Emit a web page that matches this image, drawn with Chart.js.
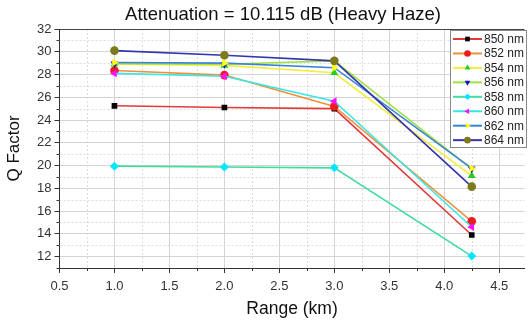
<!DOCTYPE html>
<html><head><meta charset="utf-8">
<script src="https://cdn.jsdelivr.net/npm/chart.js@4.4.1/dist/chart.umd.min.js"></script>
<style>html,body{margin:0;padding:0;background:#fff}#wrap{width:529px;height:324px;position:relative}</style>
</head><body><div id="wrap"><canvas id="c" width="529" height="324"></canvas></div>
<script>
const chartTitle = 'Attenuation = 10.115 dB (Heavy Haze)';
const xTitle = 'Range (km)';
const yTitle = 'Q Factor';
const ranges = [1.0, 2.0, 3.0, 4.25];
const seriesNames = ['850 nm','852 nm','854 nm','856 nm','858 nm','860 nm','862 nm','864 nm'];
const q850 = [25.25, 25.1, 25.0, 13.9];
const q852 = [28.35, 27.95, 25.2, 15.1];
const q854 = [28.9, 28.8, 28.15, 19.1];
const q856 = [28.95, 28.9, 29.2, 19.72];
const q858 = [19.95, 19.88, 19.8, 12.05];
const q860 = [28.1, 27.85, 25.65, 14.6];
const q862 = [29.05, 29.0, 28.6, 19.75];
const q864 = [30.1, 29.7, 29.2, 18.15];
const xTicks = [0.5, 1.0, 1.5, 2.0, 2.5, 3.0, 3.5, 4.0, 4.5];
const yTicks = [12, 14, 16, 18, 20, 22, 24, 26, 28, 30, 32];

const seriesValues = [q850,q852,q854,q856,q858,q860,q862,q864];
const lineColors = ['#e23a3a','#f0903c','#f2ee3c','#a2e046','#40dca0','#3ae6e6','#3a84d8','#3434b0'];
const markColors = ['#000000','#ee1c1c','#22cc22','#1414cc','#00e8ff','#ff10ff','#ffff10','#7c7a1c'];
const markStyles = ['rect','circle','triangle','triangle','rectRot','triangle','triangle','circle'];
const markRot = [0,0,0,180,0,-90,90,0];
const markRad = [4,4.3,4.5,4.5,4.5,4.5,4.5,4.3];

const datasets = seriesNames.map((n,i)=>({
  label:n,
  data: ranges.map((x,j)=>({x:x,y:seriesValues[i][j]})),
  borderColor: lineColors[i],
  backgroundColor: markColors[i],
  pointBackgroundColor: markColors[i],
  pointBorderColor: markColors[i],
  pointBorderWidth: 0,
  pointStyle: markStyles[i],
  rotation: markRot[i],
  pointRadius: markRad[i],
  borderWidth: 1.6,
  tension: 0,
  order: seriesNames.length - i
}));

const FONT = '"Liberation Sans", Arial, sans-serif';

const extras = {
  id:'extras',
  beforeDatasetsDraw(chart){
    const ctx = chart.ctx, a = chart.chartArea;
    const xs = chart.scales.x, ys = chart.scales.y;
    ctx.save();
    ctx.strokeStyle = '#dcdcdc'; ctx.lineWidth = 1; ctx.setLineDash([2,2]);
    for (let v = 0.75; v < xs.max; v += 0.5) {
      const px = Math.round(xs.getPixelForValue(v)) + 0.5;
      ctx.beginPath(); ctx.moveTo(px, a.top); ctx.lineTo(px, a.bottom); ctx.stroke();
    }
    for (let v = 13; v < 32; v += 2) {
      const py = Math.round(ys.getPixelForValue(v)) + 0.5;
      ctx.beginPath(); ctx.moveTo(a.left, py); ctx.lineTo(a.right, py); ctx.stroke();
    }
    ctx.setLineDash([]);
    ctx.strokeStyle = '#333'; ctx.lineWidth = 1;
    for (let v = 0.75; v < xs.max; v += 0.5) {
      const px = Math.round(xs.getPixelForValue(v)) + 0.5;
      ctx.beginPath(); ctx.moveTo(px, a.bottom); ctx.lineTo(px, a.bottom + 3); ctx.stroke();
    }
    for (let v = 11; v < 32; v += 2) {
      const py = Math.round(ys.getPixelForValue(v)) + 0.5;
      ctx.beginPath(); ctx.moveTo(a.left - 3, py); ctx.lineTo(a.left, py); ctx.stroke();
    }
    ctx.strokeStyle = '#444';
    ctx.beginPath(); ctx.moveTo(a.left, a.top + 0.5); ctx.lineTo(a.right, a.top + 0.5); ctx.stroke();
    ctx.restore();
  },
  afterDraw(chart){
    const ctx = chart.ctx;
    ctx.save();
    ctx.fillStyle = '#111';
    ctx.font = '18.5px ' + FONT;
    ctx.textAlign = 'center'; ctx.textBaseline = 'middle';
    ctx.fillText(chartTitle, 283, 15);
    const bx = 450.5, by = 30.5, bw = 76, bh = 117;
    ctx.fillStyle = '#fff'; ctx.fillRect(bx, by, bw, bh);
    ctx.strokeStyle = '#888'; ctx.lineWidth = 1; ctx.strokeRect(bx, by, bw, bh);
    chart.data.datasets.forEach((d,i)=>{
      const y = 39 + i*14.45;
      ctx.strokeStyle = d.borderColor; ctx.lineWidth = 2;
      ctx.beginPath(); ctx.moveTo(453, y); ctx.lineTo(482, y); ctx.stroke();
      ctx.fillStyle = d.pointBackgroundColor; ctx.strokeStyle = d.pointBackgroundColor;
      Chart.helpers.drawPoint(ctx, {pointStyle:d.pointStyle, rotation:d.rotation, radius:3.3, borderWidth:0}, 467.5, y);
      ctx.fillStyle = '#222'; ctx.textBaseline = 'middle'; ctx.textAlign = 'left';
      ctx.font = '12px ' + FONT;
      ctx.fillText(d.label, 484, y + 0.5);
    });
    ctx.restore();
  }
};

new Chart(document.getElementById('c'), {
  type:'line',
  data:{datasets},
  options:{
    responsive:false, animation:false, devicePixelRatio:1,
    layout:{padding:{top:29, right:0, left:0, bottom:0}},
    plugins:{legend:{display:false}, title:{display:false}, tooltip:{enabled:false}},
    scales:{
      x:{
        type:'linear', min:0.5, max:4.73,
        afterBuildTicks(s){ s.ticks = xTicks.map(v=>({value:v})); },
        afterFit(s){ s.height = 56; },
        grid:{color:'#d4d4d4', lineWidth:1, tickColor:'#333', tickLength:5, drawTicks:true},
        border:{color:'#333', width:1},
        ticks:{color:'#333', font:{family:FONT, size:13}, padding:6, maxRotation:0,
          callback:v=>Number(v).toFixed(1)},
        title:{display:true, text:xTitle, color:'#111', font:{family:FONT, size:17.5}, padding:{top:3}}
      },
      y:{
        type:'linear', min:11, max:32,
        afterBuildTicks(s){ s.ticks = yTicks.map(v=>({value:v})); },
        afterFit(s){ s.width = 59.5; },
        grid:{color:'#d4d4d4', lineWidth:1, tickColor:'#333', tickLength:5, drawTicks:true},
        border:{color:'#333', width:1},
        ticks:{color:'#333', font:{family:FONT, size:13}, padding:3},
        title:{display:true, text:yTitle, color:'#111', font:{family:FONT, size:17}, padding:{top:4, bottom:0}}
      }
    }
  },
  plugins:[extras]
});
</script>
</body></html>
